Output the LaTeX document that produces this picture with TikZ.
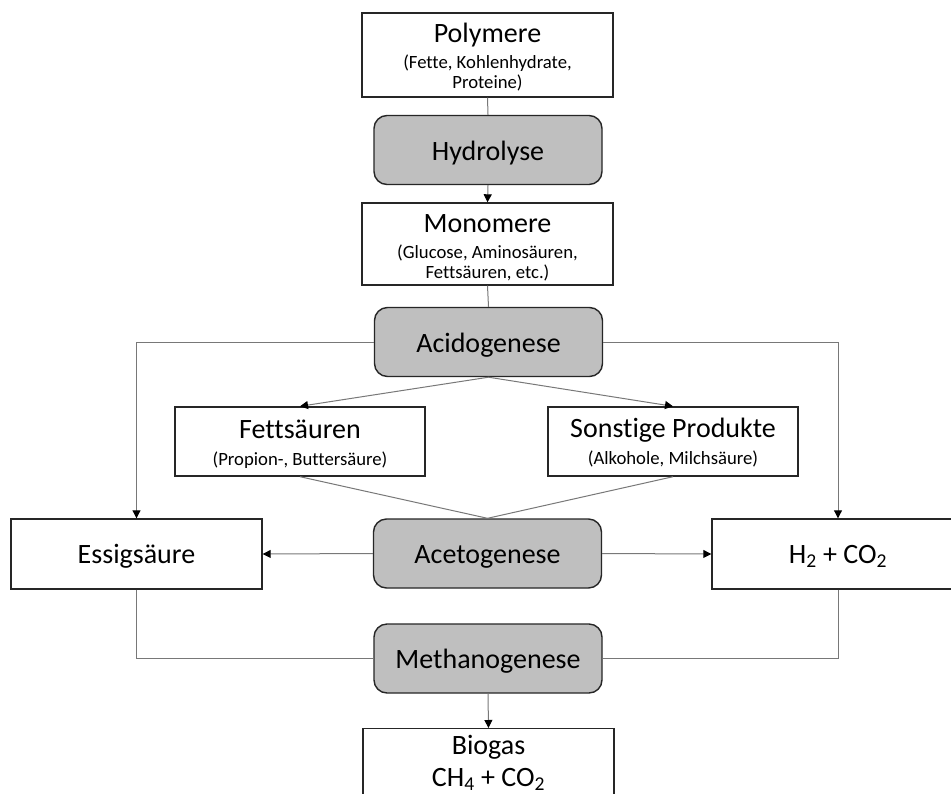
\documentclass[tikz,border=0pt]{standalone}
\usepackage{fontspec}
\setmainfont{Carlito}[Ligatures={CommonOff}]
\usetikzlibrary{arrows.meta}
\definecolor{procgray}{RGB}{191,191,191}
\definecolor{linegray}{RGB}{120,120,120}
\begin{document}
\begin{tikzpicture}[x=1pt,y=-1pt,
  box/.style={draw=black!85, line width=1.4pt, fill=white, minimum width=251pt,
    inner sep=0pt},
  bigtext/.style={font=\fontsize{28}{33}\selectfont, text height=18pt, text depth=0pt},
  ttl/.style={anchor=base, inner sep=0pt, font=\fontsize{28}{33}\selectfont},
  sub/.style={anchor=base, inner sep=0pt, font=\fontsize{18.7}{20}\selectfont},
  proc/.style={draw=black!85, line width=1.4pt, fill=procgray, rounded corners=13pt,
    minimum width=228pt, minimum height=69pt, inner sep=0pt,
    font=\fontsize{28}{33}\selectfont, text height=20pt, text depth=0pt},
  conn/.style={draw=linegray, line width=1pt},
  arr/.style={conn, -{Triangle[length=8pt,width=8pt,color=black]}}
]
\clip (0,0) rectangle (951,793);
\fill[white] (0,0) rectangle (951,793);

% boxes
\node[box, minimum height=84pt] (poly) at (487.5,55) {};
\node[ttl] (polyT) at (487.5,42) {Polymere};
\node[sub] (polyA) at (487.5,68) {(Fette, Kohlenhydrate,};
\node[sub] (polyB) at (487.5,88) {Proteine)};

\node[proc] (hyd) at (488,150) {Hydrolyse};

\node[box, minimum height=82pt] (mono) at (487.5,244) {};
\node[ttl] (monoT) at (487.5,232) {Monomere};
\node[sub] (monoA) at (487.5,258) {(Glucose, Aminosäuren,};
\node[sub] (monoB) at (487.5,278) {Fettsäuren, etc.)};

\node[proc] (acid) at (488.5,342) {Acidogenese};

\node[box, minimum width=250pt, minimum height=69pt] (fett) at (300,441.5) {};
\node[ttl] (fettT) at (300,438) {Fettsäuren};
\node[sub] (fettA) at (300,465) {(Propion-, Buttersäure)};

\node[box, minimum width=250pt, minimum height=69pt] (sonst) at (673,441.5) {};
\node[ttl] (sonstT) at (673,437) {Sonstige Produkte};
\node[sub] (sonstA) at (673,464) {(Alkohole, Milchsäure)};

\node[box, bigtext, minimum height=70pt] (essig) at (136.5,554) {Essigsäure};
\node[proc] (aceto) at (487.5,553.5) {Acetogenese};
\node[box, bigtext, minimum width=252pt, minimum height=70pt] (h2) at (838,554)
  {H\textsubscript{2} + CO\textsubscript{2}};
\node[proc] (meth) at (488,658.5) {Methanogenese};

\node[box, anchor=north, minimum height=80pt] (bio) at (488.5,728) {};
\node[ttl] (bioT) at (488.5,754) {Biogas};
\node[ttl] (bioB) at (488.5,786) {CH\textsubscript{4} + CO\textsubscript{2}};

% connectors
\draw[conn] (poly.south) -- (hyd.north);
\draw[arr] (hyd.south) -- (mono.north);
\draw[conn] (mono.south) -- (acid.north);
\draw[arr] (acid.west) -| (essig.north);
\draw[arr] (acid.east) -| (h2.north);
\draw[arr] (acid.south) -- (fett.north);
\draw[arr] (acid.south) -- (sonst.north);
\draw[conn] (fett.south) -- (aceto.north);
\draw[conn] (sonst.south) -- (aceto.north);
\draw[arr] (aceto.west) -- (essig.east);
\draw[arr] (aceto.east) -- (h2.west);
\draw[conn] (essig.south) |- (meth.west);
\draw[conn] (h2.south) |- (meth.east);
\draw[arr] (meth.south) -- (bio.north);
\end{tikzpicture}
\end{document}
